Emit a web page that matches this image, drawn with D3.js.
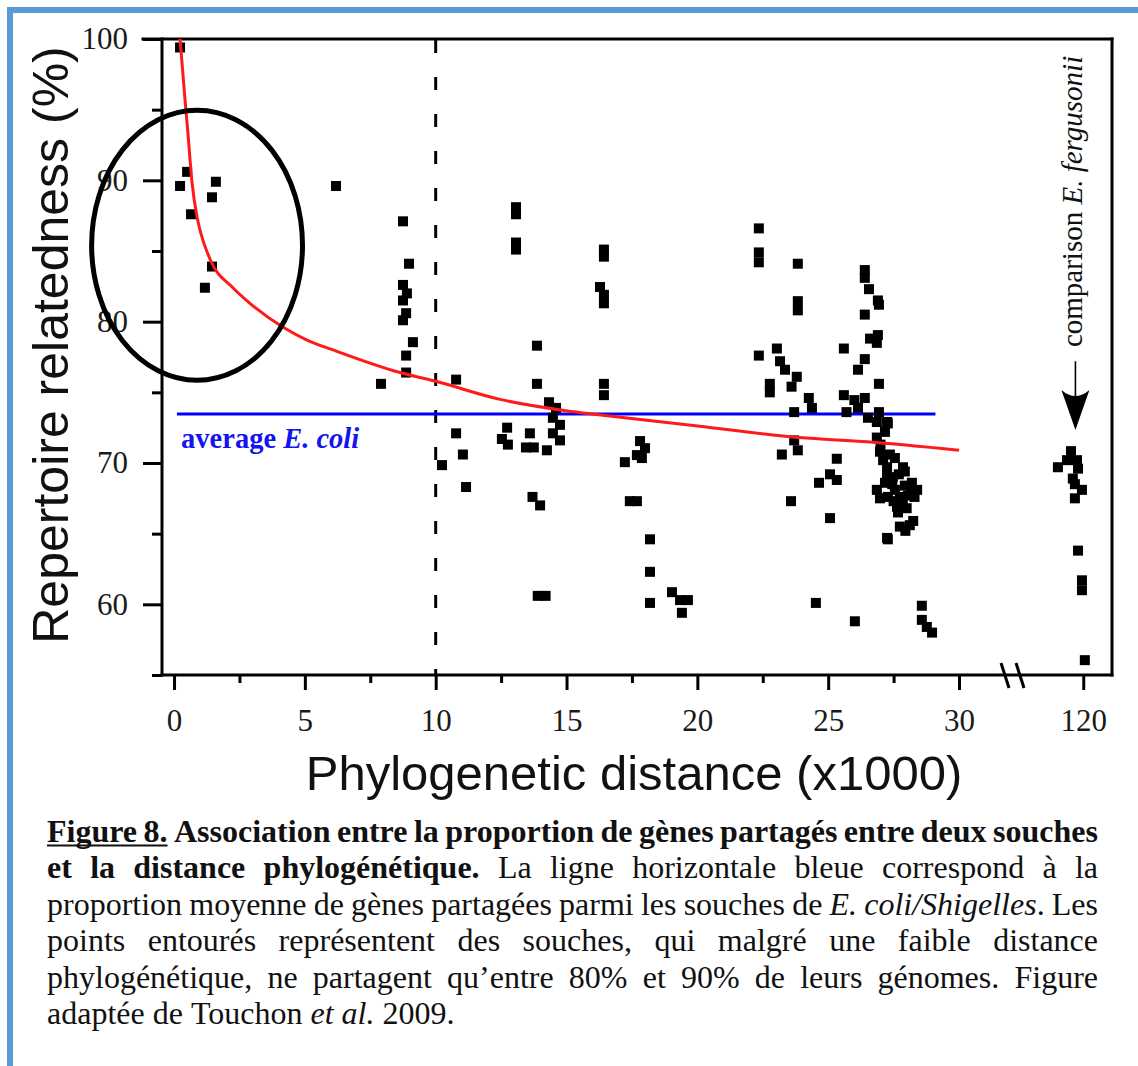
<!DOCTYPE html>
<html>
<head>
<meta charset="utf-8">
<script src="https://cdn.jsdelivr.net/npm/d3@7"></script>
<style>
  body { margin: 0; background: #fff; }
  svg { display: block; }
</style>
</head>
<body>
<svg id="fig" width="1138" height="1066"></svg>
<script>
// ---- data: [phylogenetic distance (x1000), repertoire relatedness (%)] ----
const closePairs = [
  [0.23, 99.4], [0.5, 90.6], [0.23, 89.6], [1.6, 89.9], [1.45, 88.8],
  [0.65, 87.6], [1.45, 83.9], [1.18, 82.4]
];
const pairs5to12 = [
  [6.19, 89.6], [7.91, 75.6],
  [8.75, 87.1], [8.98, 84.1], [8.75, 82.6], [8.9, 82.0], [8.75, 81.5],
  [8.87, 80.6], [8.75, 80.1], [9.13, 78.55], [8.87, 77.6], [8.87, 76.4],
  [10.78, 75.9], [10.78, 72.1], [10.24, 69.85], [11.04, 70.6], [11.16, 68.3]
];
const pairs12to20 = [
  [13.07, 88.1], [13.07, 87.6], [13.07, 85.6], [13.07, 85.1],
  [13.87, 78.3], [13.87, 75.6],
  [12.73, 72.5], [12.53, 71.7], [12.76, 71.3], [13.6, 72.1], [13.45, 71.1], [13.75, 71.1],
  [13.7, 67.6], [13.99, 67.0], [13.9, 60.6], [14.2, 60.6],
  [14.33, 74.3], [14.6, 73.9], [14.48, 73.2], [14.75, 72.7], [14.48, 72.1], [14.75, 71.6], [14.25, 70.9],
  [16.43, 85.1], [16.43, 84.6], [16.28, 82.45], [16.43, 81.9], [16.43, 81.3],
  [16.43, 75.6], [16.43, 74.8],
  [17.81, 71.55], [18.0, 71.05], [17.69, 70.56], [17.88, 70.35], [17.23, 70.06],
  [17.42, 67.3], [17.69, 67.3],
  [18.19, 64.6], [18.19, 62.3], [18.19, 60.1],
  [19.03, 60.86], [19.34, 60.3], [19.64, 60.3], [19.41, 59.4]
];
const pairs22to26 = [
  [22.35, 86.6], [22.35, 84.9], [22.35, 84.2],
  [23.84, 84.1], [23.84, 81.45], [23.84, 80.8],
  [22.35, 77.6], [23.04, 78.1], [23.16, 77.2], [23.35, 76.6],
  [22.77, 75.6], [22.77, 75.0], [23.8, 76.1], [23.6, 75.4],
  [24.26, 74.6], [24.38, 73.9], [23.7, 73.6],
  [23.7, 71.6], [23.84, 70.9], [23.23, 70.6], [23.58, 67.3],
  [25.33, 70.3], [25.07, 69.2], [25.33, 68.8], [24.65, 68.6], [25.07, 66.1],
  [24.53, 60.1], [26.02, 58.8], [25.6, 78.1]
];
const pairs26to30 = [
  [26.4, 83.65], [26.4, 83.1], [26.56, 82.3], [26.9, 81.5], [26.94, 81.2],
  [26.4, 80.5], [26.6, 78.8], [26.9, 79.05], [26.86, 78.5], [26.4, 77.35],
  [26.14, 76.6], [26.94, 75.6], [25.6, 74.8], [26.0, 74.45], [26.4, 74.6],
  [26.14, 73.9], [25.7, 73.6], [26.94, 73.6], [26.52, 73.2], [26.86, 72.9],
  [27.25, 72.9], [26.86, 71.8], [26.98, 70.8], [27.25, 69.15], [26.86, 68.1],
  [26.98, 67.5], [27.25, 64.7],
  [27.28, 72.8], [27.17, 72.2], [27.36, 70.6], [27.25, 69.7], [27.86, 69.7],
  [27.47, 69.0], [28.2, 68.6], [28.4, 68.1], [27.74, 67.6], [27.28, 67.6],
  [27.63, 66.9], [28.3, 67.6], [27.74, 65.5], [28.12, 65.6], [27.28, 64.6],
  [27.93, 69.4], [27.17, 68.6], [27.93, 68.4], [27.55, 68.1], [28.05, 67.7],
  [27.67, 66.5], [27.55, 70.35],
  [27.0, 71.3], [27.1, 70.2], [27.7, 69.2], [27.45, 68.5], [28.15, 68.0],
  [27.85, 67.2], [28.0, 66.8], [27.5, 67.3], [28.25, 65.9], [27.95, 65.2],
  [28.58, 59.9], [28.58, 58.9], [28.97, 58.0], [28.77, 58.4]
];
const fergusoniiPairs = [
  [119.53, 70.84], [119.38, 70.2], [119.03, 69.7], [119.76, 70.2], [119.8, 69.6],
  [119.6, 68.9], [119.68, 68.5], [119.95, 68.1], [119.68, 67.5],
  [119.8, 63.8], [119.95, 61.7], [119.95, 61.0], [120.06, 56.05]
];
// fitted trend (red)
const trendCurve = [
  [0.23, 100], [0.42, 95.7], [0.53, 93.35], [0.69, 89.8], [0.88, 87.4],
  [0.99, 86.5], [1.38, 84.4], [2.25, 82.4], [2.9, 81.3], [4.17, 79.6],
  [5.08, 78.7], [6.08, 78.0], [8.64, 76.4], [9.97, 75.8], [12.46, 74.5],
  [14.98, 73.7], [16.3, 73.4], [20.1, 72.6], [23.9, 71.8], [26.5, 71.5], [30.1, 70.9]
];
// average E. coli relatedness (blue)
const averageEcoli = 73.46;
const averageSpan = [0.11, 29.1];

const xMajorTicks = [0, 5, 10, 15, 20, 25, 30, 120];
const xMinorTicks = [2.5, 7.5, 12.5, 17.5, 22.5, 27.5];
const yMajorTicks = [60, 70, 80, 90, 100];
const yMinorTicks = [55, 65, 75, 85, 95];

const yAxisTitle = "Repertoire relatedness (%)";
const xAxisTitle = "Phylogenetic distance (x1000)";

// ---- layout ----
const svg = d3.select("#fig");
const serif = "'Liberation Serif','Times New Roman',Times,serif";
const sans = "'Liberation Sans',Arial,Helvetica,sans-serif";

const L = 162, R = 1112, T = 39, B = 675;
// broken x axis: 0–30 then a short window around 120
const x = d3.scaleLinear().domain([-0.46, 30, 118, 121.1]).range([L, 959, 1031, R]);
const y = d3.scaleLinear().domain([55, 100]).range([B, T]);

// page frame (blue rule top and left)
svg.append("rect").attr("x", 0).attr("y", 0).attr("width", 1138).attr("height", 1066).attr("fill", "#fff");
svg.append("line").attr("x1", 7).attr("x2", 1138).attr("y1", 10).attr("y2", 10)
  .attr("stroke", "#5b9bd5").attr("stroke-width", 6);
svg.append("line").attr("x1", 10).attr("x2", 10).attr("y1", 7).attr("y2", 1066)
  .attr("stroke", "#5b9bd5").attr("stroke-width", 6);

// axes
const axisStyle = g => {
  g.select(".domain").remove();
  g.selectAll(".tick line").attr("stroke", "#000").attr("stroke-width", 3);
  g.selectAll(".tick text").attr("font-family", serif).attr("font-size", 31).attr("fill", "#1a1a1a");
};
svg.append("g").attr("transform", `translate(${L},0)`)
  .call(d3.axisLeft(y).tickValues(yMajorTicks).tickSize(19).tickPadding(15).tickFormat(d3.format("d")))
  .call(axisStyle);
svg.append("g").attr("transform", `translate(${L},0)`)
  .call(d3.axisLeft(y).tickValues(yMinorTicks).tickSize(10).tickFormat(""))
  .call(axisStyle);
svg.append("g").attr("transform", `translate(0,${B})`)
  .call(d3.axisBottom(x).tickValues(xMajorTicks).tickSize(15).tickPadding(19).tickFormat(d3.format("d")))
  .call(axisStyle);
svg.append("g").attr("transform", `translate(0,${B})`)
  .call(d3.axisBottom(x).tickValues(xMinorTicks).tickSize(8).tickFormat(""))
  .call(axisStyle);

// plot frame
const frame = svg.append("g").attr("stroke", "#000").attr("stroke-width", 3).attr("stroke-linecap", "square");
frame.append("line").attr("x1", L).attr("x2", L).attr("y1", T).attr("y2", B);
frame.append("line").attr("x1", L).attr("x2", R).attr("y1", B).attr("y2", B);
frame.append("line").attr("x1", L - 19).attr("x2", R).attr("y1", T).attr("y2", T);
frame.append("line").attr("x1", R).attr("x2", R).attr("y1", T).attr("y2", B);

// axis break marks
const bx = (x(30) + x(118)) / 2 + 18;
[-8, 7].forEach(o => {
  svg.append("line").attr("x1", bx + o - 4).attr("y1", B - 12).attr("x2", bx + o + 4).attr("y2", B + 13)
    .attr("stroke", "#000").attr("stroke-width", 3);
});

// vertical dashed line at distance 10
svg.append("line").attr("x1", x(10)).attr("x2", x(10)).attr("y1", T + 1).attr("y2", B)
  .attr("stroke", "#000").attr("stroke-width", 3).attr("stroke-dasharray", "13 24");

// average line and label
svg.append("line").attr("x1", x(averageSpan[0])).attr("x2", x(averageSpan[1]))
  .attr("y1", y(averageEcoli)).attr("y2", y(averageEcoli))
  .attr("stroke", "#0000ff").attr("stroke-width", 3);
const avgLbl = svg.append("text").attr("x", x(0.27)).attr("y", y(averageEcoli) + 34)
  .attr("font-family", serif).attr("font-size", 28.5).attr("font-weight", "bold").attr("fill", "#1414f0");
avgLbl.append("tspan").text("average ");
avgLbl.append("tspan").attr("font-style", "italic").text("E. coli");

// points
const allPairs = [].concat(closePairs, pairs5to12, pairs12to20, pairs22to26, pairs26to30, fergusoniiPairs);
const S = 10;
svg.append("g").selectAll("rect").data(allPairs).join("rect")
  .attr("x", d => x(d[0]) - S / 2).attr("y", d => y(d[1]) - S / 2)
  .attr("width", S).attr("height", S).attr("fill", "#000");

// trend curve
svg.append("path").datum(trendCurve)
  .attr("d", d3.line().x(d => x(d[0])).y(d => y(d[1])).curve(d3.curveMonotoneX))
  .attr("fill", "none").attr("stroke", "#ff1a1a").attr("stroke-width", 3);

// circled low-distance pairs
const circled = { cx: 0.88, cy: 85.4, rx: 4.03, ry: 9.55 };
svg.append("ellipse")
  .attr("cx", x(circled.cx)).attr("cy", y(circled.cy))
  .attr("rx", x(circled.cx + circled.rx) - x(circled.cx))
  .attr("ry", y(circled.cy - circled.ry) - y(circled.cy))
  .attr("fill", "none").attr("stroke", "#000").attr("stroke-width", 5);

// E. fergusonii annotation
const ax = x(119.7);
const fer = svg.append("text")
  .attr("transform", `translate(${ax + 7},${y(78.2)}) rotate(-90)`)
  .attr("font-family", serif).attr("font-size", 29).attr("fill", "#111");
fer.append("tspan").text("comparison ");
fer.append("tspan").attr("font-style", "italic").text("E. fergusonii");
svg.append("line").attr("x1", ax).attr("x2", ax).attr("y1", y(77.2)).attr("y2", y(73.6))
  .attr("stroke", "#000").attr("stroke-width", 1.6);
const tipY = y(72.33);
svg.append("path")
  .attr("d", `M${ax},${tipY} L${ax - 14},${tipY - 40} Q${ax},${tipY - 28} ${ax + 14},${tipY - 40} Z`)
  .attr("fill", "#000");

// axis titles
svg.append("text").attr("transform", `translate(68,345) rotate(-90)`)
  .attr("text-anchor", "middle").attr("font-family", sans).attr("font-size", 50).attr("fill", "#111")
  .text(yAxisTitle);
svg.append("text").attr("x", 634).attr("y", 790)
  .attr("text-anchor", "middle").attr("font-family", sans).attr("font-size", 49).attr("fill", "#111")
  .text(xAxisTitle);

// ---- caption (justified) ----
const caption = [
  { justify: true, parts: [["Figure 8.", "bu"], [" Association entre la proportion de gènes partagés entre deux souches", "b"]] },
  { justify: true, parts: [["et la distance phylogénétique.", "b"], [" La ligne horizontale bleue correspond à la", ""]] },
  { justify: true, parts: [["proportion moyenne de gènes partagées parmi les souches de ", ""], ["E. coli/Shigelles", "i"], [". Les", ""]] },
  { justify: true, parts: [["points entourés représentent des souches, qui malgré une faible distance", ""]] },
  { justify: true, parts: [["phylogénétique, ne partagent qu’entre 80% et 90% de leurs génomes. Figure", ""]] },
  { justify: false, parts: [["adaptée de Touchon ", ""], ["et al.", "i"], [" 2009.", ""]] }
];
const capX0 = 47, capX1 = 1098, capY0 = 842, capLead = 36.4, capSize = 32;
const capG = svg.append("g").attr("font-family", serif).attr("font-size", capSize).attr("fill", "#111");

caption.forEach((line, li) => {
  const by = capY0 + li * capLead;
  // split into words, keeping style runs
  const words = [];
  let cur = [];
  line.parts.forEach(([txt, st]) => {
    const toks = txt.split(" ");
    toks.forEach((tk, i) => {
      if (i > 0) { if (cur.length) words.push(cur); cur = []; }
      if (tk.length) cur.push([tk, st]);
    });
  });
  if (cur.length) words.push(cur);

  const nodes = words.map(w => {
    const t = capG.append("text").attr("y", by);
    w.forEach(([tk, st]) => {
      const s = t.append("tspan").text(tk);
      if (st.includes("b")) s.attr("font-weight", "bold");
      if (st.includes("i")) s.attr("font-style", "italic");
    });
    return { t, w: t.node().getComputedTextLength(), u: w.some(r => r[1].includes("u")) };
  });
  const total = d3.sum(nodes, n => n.w);
  const gap = line.justify && nodes.length > 1 ? (capX1 - capX0 - total) / (nodes.length - 1) : capSize * 0.25;
  let cx = capX0, uStart = null, uEnd = null;
  nodes.forEach(n => {
    n.t.attr("x", cx);
    if (n.u) { if (uStart === null) uStart = cx; uEnd = cx + n.w; }
    cx += n.w + gap;
  });
  if (uStart !== null) {
    capG.append("line").attr("x1", uStart).attr("x2", uEnd).attr("y1", by + 3.5).attr("y2", by + 3.5)
      .attr("stroke", "#111").attr("stroke-width", 2);
  }
});
</script>
</body>
</html>
